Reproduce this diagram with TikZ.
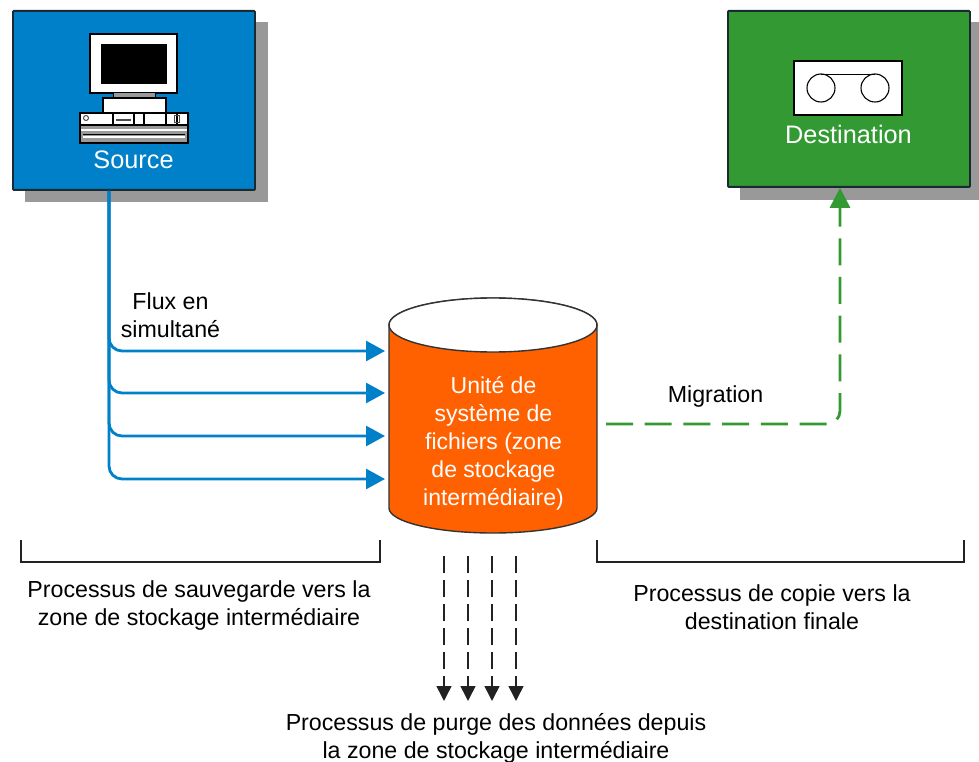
\documentclass[tikz,border=0pt]{standalone}
\usepackage{fontspec}
\setmainfont{Liberation Sans}
\usetikzlibrary{arrows.meta}
\definecolor{srcblue}{HTML}{0080C8}
\definecolor{dstgreen}{HTML}{339933}
\definecolor{cylorange}{HTML}{FF6000}
\definecolor{shadowgray}{HTML}{999999}
\definecolor{edgedark}{HTML}{1A2A33}
\definecolor{inkgray}{HTML}{222222}
\tikzset{
  panel/.style={draw=edgedark,line width=1.8pt,rounded corners=0.8pt,inner sep=0pt,anchor=north west},
  hw/.style={draw=black,line width=1.5pt,fill=white},
  paneltext/.style={text=white,font=\fontsize{25.3}{28}\selectfont,inner sep=0pt},
  lbl/.style={text=black,font=\fontsize{23.2}{28.2}\selectfont,align=center,inner sep=0pt},
  cyltext/.style={text=white,font=\fontsize{23}{27.8}\selectfont,align=center,inner sep=0pt},
  flow/.style={draw=srcblue,line width=2.8pt,rounded corners=13pt,-{Triangle[length=19pt,width=20pt]}},
  migrate/.style={draw=dstgreen,line width=2.8pt,rounded corners=13pt,dash pattern=on 27pt off 11.7pt,-{Triangle[length=20pt,width=20pt]}},
  purge/.style={draw=inkgray,line width=1.5pt,dash pattern=on 17pt off 7pt,-{Triangle[length=15pt,width=15pt]}},
  bracket/.style={draw=inkgray,line width=1.1pt},
}
\begin{document}
\begin{tikzpicture}[x=1pt,y=-1pt]
\useasboundingbox (0,0) rectangle (979,762);
% source panel
\fill[shadowgray] (25,22) rectangle (268,202);
\node[panel,fill=srcblue,minimum width=242pt,minimum height=179pt] (source) at (12,10) {};
\draw[hw] (90,34) rectangle (177,93);
\fill[black] (101,44) rectangle (167,84);
\draw[draw=black,line width=1pt,fill=shadowgray] (113,93) rectangle (155,98);
\draw[hw] (103,98) rectangle (166,113);
\draw[hw] (80,113) rectangle (188,143);
\fill[shadowgray] (81,125) rectangle (187,142);
\draw[black,line width=1.2pt] (80,125) -- (188,125);
\draw[white,line width=1.8pt] (81,130) -- (187,130);
\draw[white,line width=2.2pt] (83,137) -- (185,137);
\draw[black,line width=1pt] (83,135) -- (185,135);
\draw[black,line width=1.2pt] (113,113) -- (113,125) (134,113) -- (134,125) (144,113) -- (144,125) (166,113) -- (166,125) (177,113) -- (177,125);
\draw[black!70,line width=1.2pt] (116,120) -- (131,120);
\draw[black!70,line width=1pt] (86,118) circle (2.5pt);
\draw[black!70,line width=1pt] (174,115.5) rectangle (179,123);
\node[paneltext] (sourcelabel) at (133.5,160) {Source};
% destination panel
\fill[shadowgray] (740,22) rectangle (979,200);
\node[panel,fill=dstgreen,minimum width=242pt,minimum height=176pt] (dest) at (727,10) {};
\draw[hw] (794,61) rectangle (902,115);
\draw[black,line width=1.1pt] (821,88) circle (14pt);
\draw[black,line width=1.1pt] (875,88) circle (14pt);
\draw[black,line width=1.1pt] (821,74.5) -- (875,74.5);
\node[paneltext] (destlabel) at (848.5,134) {Destination};
% cylinder
\node[minimum width=208pt,minimum height=235pt,inner sep=0pt] (cyl) at (493,415.5) {};
\draw[fill=cylorange,draw=black!80,line width=1.4pt] (389,325) -- (389,508) arc[start angle=180,end angle=360,x radius=104pt,y radius=25pt] -- (597,325) arc[start angle=0,end angle=180,x radius=104pt,y radius=27pt] -- cycle;
\draw[fill=white,draw=black!80,line width=1.4pt] (493,325) ellipse[x radius=104pt,y radius=27pt];
\node[cyltext] (cyllabel) at (493.5,443.5) {Unité de\\système de\\fichiers (zone\\de stockage\\intermédiaire)};
% flows
\coordinate (trunk) at (109,0);
\coordinate (in1) at (385,351);
\coordinate (in2) at (385,393);
\coordinate (in3) at (385,436);
\coordinate (in4) at (385,479);
\foreach \i in {1,2,3,4}{
  \draw[flow] (source.south -| trunk) -- (trunk |- in\i) -- (in\i);
}
\node[lbl] (fluxlabel) at (170.5,315) {Flux en\\simultané};
% migration
\coordinate (migstart) at (606,424);
\coordinate (migbend) at (840,424);
\draw[migrate] (migstart) -- (migbend) -- (migbend |- dest.south);
\node[lbl] (miglabel) at (715.5,396) {Migration};
% brackets
\coordinate (bl) at (21,562);
\coordinate (br) at (380,562);
\coordinate (cl) at (597,562);
\coordinate (cr) at (964,562);
\draw[bracket] (21,540) -- (bl) -- (br) -- (380,540);
\draw[bracket] (597,540) -- (cl) -- (cr) -- (964,540);
\node[lbl] (backuplabel) at (199,605.5) {Processus de sauvegarde vers la\\zone de stockage intermédiaire};
\node[lbl] (copylabel) at (772,607.5) {Processus de copie vers la\\destination finale};
% purge
\foreach \n/\x in {1/444,2/468,3/492,4/516}{
  \coordinate (ps\n) at (\x,556);
  \coordinate (pe\n) at (\x,701);
  \draw[purge] (ps\n) -- (pe\n);
}
\node[lbl] (purgelabel) at (496,738.5) {Processus de purge des données depuis\\la zone de stockage intermédiaire};
\end{tikzpicture}
\end{document}
